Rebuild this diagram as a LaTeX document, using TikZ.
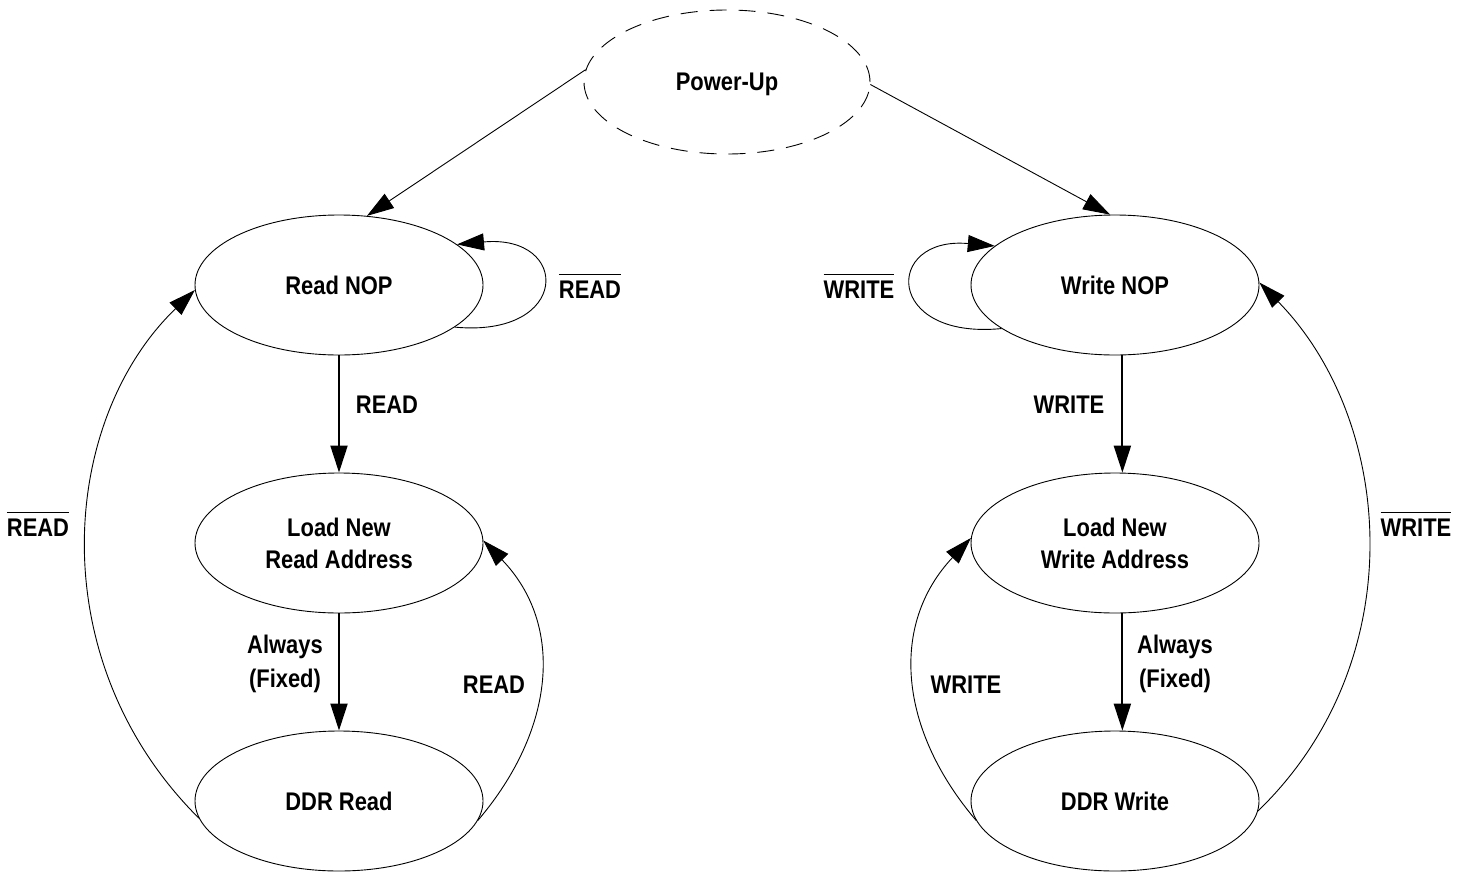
\documentclass[tikz,border=0pt]{standalone}
\usepackage{fontspec}
\setmainfont{Liberation Sans}[FakeStretch=0.86]
\usetikzlibrary{arrows.meta,calc,shapes.geometric}
\newcommand\barred[1]{\leavevmode\vbox{\hrule height 1.8pt\kern 5pt\hbox{#1}}}
\tikzset{
  state/.style={ellipse, draw, line width=0.9pt, minimum width=288pt, minimum height=140pt,
    inner sep=0pt, align=center, font=\bfseries\fontsize{25.5}{32}\selectfont},
  lab/.style={font=\bfseries\fontsize{25.5}{34}\selectfont, align=center, inner sep=0pt},
  conn/.style={line width=0.9pt, -{Triangle[length=27pt,width=17pt]}},
  vconn/.style={line width=2pt, -{Triangle[length=27pt,width=17pt]}},
}
\begin{document}
\begin{tikzpicture}[x=1pt,y=-1pt]
\useasboundingbox (0,0) rectangle (1467,873);
% states
\node[state, dash pattern=on 17pt off 12pt, minimum width=286pt, minimum height=144pt, text depth=0pt] (pu) at (727,82) {Power-Up};
\node[state] (rn) at (339,285) {Read NOP};
\node[state] (la) at (339,543) {Load New\\Read Address};
\node[state] (dr) at (339,801) {DDR Read};
\node[state] (wn) at (1115,285) {Write NOP};
\node[state] (wl) at (1115,543) {Load New\\Write Address};
\node[state] (dw) at (1115,801) {DDR Write};
% power-up transitions
\draw[conn] (pu.175) -- (rn.68);
\draw[conn] (pu.-1) -- (wn.94);
% self loops
\draw[conn] (rn.-20) .. controls (571,338) and (571,234) .. (rn.19);
\draw[conn] (wn.201) .. controls (884,340) and (884,236) .. (wn.162);
% vertical
\draw[vconn] (rn.south) -- (la.north);
\draw[vconn] (la.south) -- (dr.north);
\draw[vconn] (wn.-84) -- (wl.84);
\draw[vconn] (wl.-84) -- (dw.84);
% returns
\draw[conn] (dr.187) .. controls (40,660) and (60,420) .. (rn.182);
\draw[conn] (dr.-8) .. controls (555,730) and (565,625) .. (la.1);
\draw[conn] (dw.-4) .. controls (1414,660) and (1394,420) .. (wn.1);
\draw[conn] (dw.188) .. controls (899,730) and (889,625) .. (wl.178);
% labels
\node[lab, anchor=base] (l1) at (590,298) {\barred{READ}};
\node[lab, anchor=base] (l2) at (859,298) {\barred{WRITE}};
\node[lab, anchor=base] (l3) at (38,536) {\barred{READ}};
\node[lab, anchor=base] (l4) at (1416,536) {\barred{WRITE}};
\node[lab] (l5) at (387,405) {READ};
\node[lab] (l6) at (1069,405) {WRITE};
\node[lab] (l7) at (285,664) {Always\\(Fixed)};
\node[lab] (l8) at (1175,664) {Always\\(Fixed)};
\node[lab] (l9) at (494,685) {READ};
\node[lab] (l10) at (966,685) {WRITE};
\end{tikzpicture}
\end{document}
